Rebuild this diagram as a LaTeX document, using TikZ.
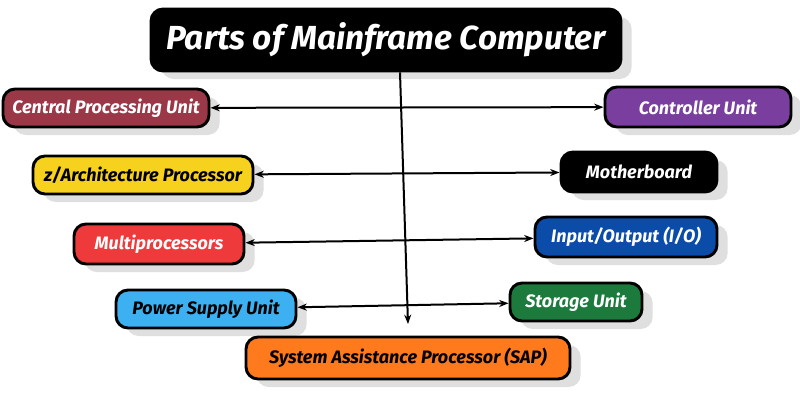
\documentclass[tikz,border=0pt]{standalone}
\usepackage{fontspec}
\setmainfont{Fira Sans}
\usetikzlibrary{shadows,arrows.meta}
\definecolor{cpucol}{HTML}{9B3848}
\definecolor{ctrlcol}{HTML}{7A3E9E}
\definecolor{zarchcol}{HTML}{F6D11E}
\definecolor{iocol}{HTML}{0B4CA8}
\definecolor{multicol}{HTML}{EE3A3A}
\definecolor{psucol}{HTML}{3CB0F0}
\definecolor{storecol}{HTML}{1B7A3C}
\definecolor{sapcol}{HTML}{FF7A1C}
\tikzset{
  part/.style={draw=black, line width=2.2pt, rounded corners=9pt, inner sep=0pt,
    font=\fontsize{13.5}{15}\selectfont\bfseries\itshape,
    drop shadow={opacity=0.25, shadow xshift=8pt, shadow yshift=-6pt}},
  link/.style={{Stealth[length=7pt]}-{Stealth[length=7pt]}, line width=1.5pt}
}
\begin{document}
\begin{tikzpicture}[x=0.75pt,y=-0.75pt]
  \useasboundingbox (0,0) rectangle (800,400);
  % title
  \node[part, fill=black, text=white, minimum width=470*0.75pt,
        minimum height=62*0.75pt, font=\fontsize{25}{28}\selectfont\bfseries\itshape] (title) at (386,40) {Parts of Mainframe Computer};

  % left column
  \node[part, fill=cpucol, text=white, minimum width=206*0.75pt, minimum height=38*0.75pt] (cpu) at (106,108) {Central Processing Unit};
  \node[part, fill=zarchcol, text=black, minimum width=220*0.75pt, minimum height=38*0.75pt] (zarch) at (143,175) {z/Architecture Processor};
  \node[part, fill=multicol, text=white, minimum width=170*0.75pt, minimum height=40*0.75pt] (multi) at (159,244) {Multiprocessors};
  \node[part, fill=psucol, text=black, minimum width=180*0.75pt, minimum height=38*0.75pt] (psu) at (206,309) {Power Supply Unit};

  % right column
  \node[part, fill=ctrlcol, text=white, minimum width=186*0.75pt, minimum height=40*0.75pt] (ctrl) at (698,107) {Controller Unit};
  \node[part, fill=black, text=white, minimum width=156*0.75pt, minimum height=40*0.75pt] (mboard) at (639,172) {Motherboard};
  \node[part, fill=iocol, text=white, minimum width=182*0.75pt, minimum height=40*0.75pt] (io) at (626,237) {Input/Output (I/O)};
  \node[part, fill=storecol, text=white, minimum width=132*0.75pt, minimum height=38*0.75pt] (store) at (576,302) {Storage Unit};

  % bottom
  \node[part, fill=sapcol, text=black, minimum width=324*0.75pt, minimum height=42*0.75pt] (sap) at (408,358) {System Assistance Processor (SAP)};

  % connectors
  \coordinate (trunkend) at (408,324);
  \draw[-{Stealth[length=7pt]}, line width=1.5pt] (title.south -| 400,0) -- (trunkend);
  \draw[link] (cpu) -- (ctrl);
  \draw[link] (zarch) -- (mboard);
  \draw[link] (multi) -- (io);
  \draw[link] (psu) -- (store);
\end{tikzpicture}
\end{document}
